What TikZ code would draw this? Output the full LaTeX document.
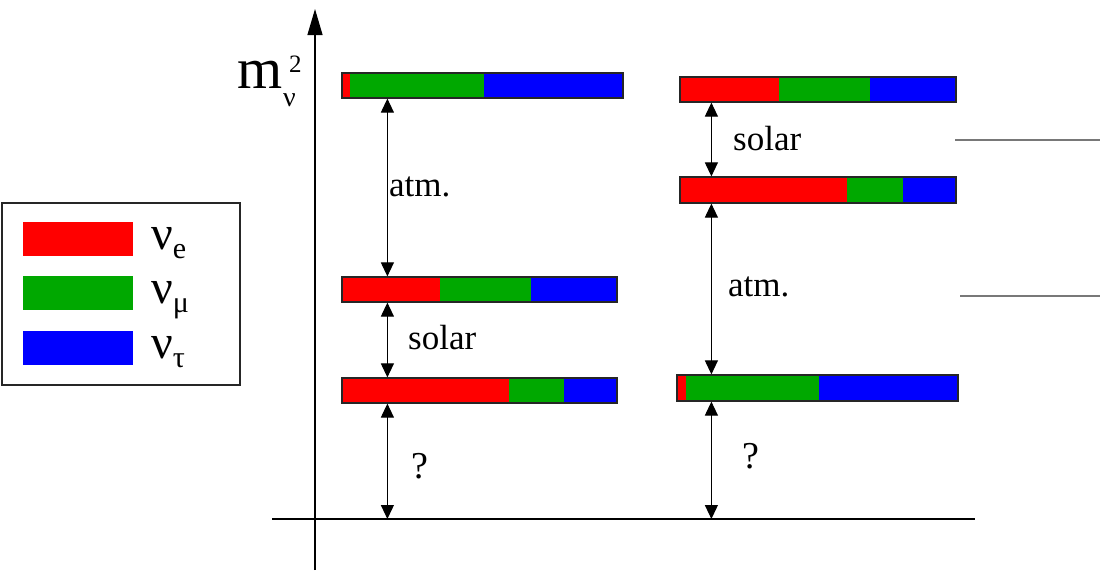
\documentclass[tikz,border=0pt]{standalone}
\usepackage{fontspec}
\setmainfont{Liberation Serif}
\usetikzlibrary{arrows.meta,fit}
\definecolor{nred}{RGB}{255,0,0}
\definecolor{ngreen}{RGB}{0,168,0}
\definecolor{nblue}{RGB}{0,0,255}
\definecolor{lgrey}{RGB}{120,120,120}
\tikzset{
  barframe/.style={draw=black!85, line width=1.2pt, inner sep=0pt},
  dbl/.style={{Triangle[length=14pt,width=13pt]}-{Triangle[length=14pt,width=13pt]}, line width=1.1pt},
  lbl/.style={font=\fontsize{35}{35}\selectfont, inner sep=0pt, anchor=base west},
  qlbl/.style={font=\fontsize{38}{38}\selectfont, inner sep=0pt, anchor=base west},
  swatch/.style={inner sep=0pt, minimum width=110pt, minimum height=34pt, anchor=north west},
}
\newcommand\mixbar[7]{%
  \fill[nred] (#2,#6) rectangle (#3,#7);
  \fill[ngreen] (#3,#6) rectangle (#4,#7);
  \fill[nblue] (#4,#6) rectangle (#5,#7);
  \node[barframe, fit={(#2,#6) (#5,#7)}] (#1) {};
}
\newcommand\nulab[1]{{\fontsize{48}{48}\selectfont ν}\raisebox{-9pt}{\fontsize{30}{30}\selectfont #1}}
\begin{document}
\begin{tikzpicture}[x=1pt,y=-1pt]
\useasboundingbox (0,0) rectangle (1101,571);
% axes
\coordinate (ybot) at (315,570);
\coordinate (ytop) at (315,9);
\draw[line width=1.2pt, -{Triangle[length=26pt,width=15pt]}] (ybot) -- (ytop);
\coordinate (xl) at (272,519);
\coordinate (xr) at (975,519);
\draw[line width=1.2pt] (xl) -- (xr);
% axis label
\node[inner sep=0pt, anchor=base west, font=\fontsize{58}{58}\selectfont] (m) at (237,88) {m};
\node[inner sep=0pt, anchor=base west, font=\fontsize{28}{28}\selectfont] (msub) at (283,106) {ν};
\node[inner sep=0pt, anchor=base west, font=\fontsize{25}{25}\selectfont] (msup) at (289,72) {2};
% left (normal) hierarchy
\mixbar{L1}{342}{350}{484}{623}{73}{98}
\mixbar{L2}{342}{440}{531}{617}{277}{302}
\mixbar{L3}{342}{509}{564}{617}{378}{403}
\draw[dbl] ([xshift=46pt]L1.south west) -- ([xshift=46pt]L2.north west);
\draw[dbl] ([xshift=46pt]L2.south west) -- ([xshift=46pt]L3.north west);
\draw[dbl] ([xshift=46pt]L3.south west) -- ([xshift=46pt]L3.south west |- xl);
\node[lbl] (atmL) at (389,196) {atm.};
\node[lbl] (solL) at (408,349) {solar};
\node[qlbl] (qL) at (411,478) {?};
% right (inverted) hierarchy
\mixbar{R1}{680}{779}{870}{956}{77}{102}
\mixbar{R2}{680}{847}{903}{956}{177}{203}
\mixbar{R3}{677}{686}{819}{958}{375}{401}
\draw[dbl] ([xshift=32pt]R1.south west) -- ([xshift=32pt]R2.north west);
\draw[dbl] ([xshift=32pt]R2.south west) -- ([xshift=35pt]R3.north west);
\draw[dbl] ([xshift=35pt]R3.south west) -- ([xshift=35pt]R3.south west |- xl);
\node[lbl] (solR) at (733,150) {solar};
\node[lbl] (atmR) at (728,296) {atm.};
\node[qlbl] (qR) at (742,468) {?};
% grey lines at right
\coordinate (g1a) at (955,140);
\coordinate (g1b) at (1100,140);
\coordinate (g2a) at (960,296);
\coordinate (g2b) at (1100,296);
\draw[lgrey, line width=1.3pt] (g1a) -- (g1b);
\draw[lgrey, line width=1.3pt] (g2a) -- (g2b);
% legend
\node[draw=black!85, line width=1.3pt, inner sep=0pt, fit={(2,203) (240,385)}] (legend) {};
\node[swatch, fill=nred] (se) at (23,222) {};
\node[swatch, fill=ngreen] (sm) at (23,276) {};
\node[swatch, fill=nblue] (st) at (23,331) {};
\node[inner sep=0pt, anchor=base west] (le) at (151,249) {\nulab{e}};
\node[inner sep=0pt, anchor=base west] (lm) at (151,303) {\nulab{μ}};
\node[inner sep=0pt, anchor=base west] (lt) at (151,358) {\nulab{τ}};
\end{tikzpicture}
\end{document}
